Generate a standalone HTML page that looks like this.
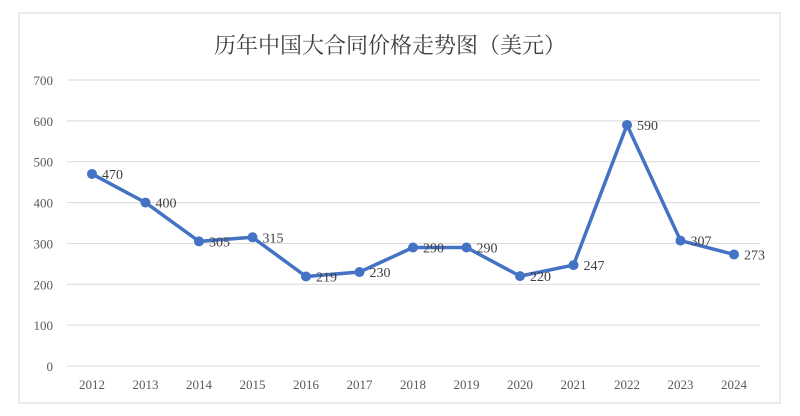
<!DOCTYPE html>
<html><head><meta charset="utf-8"><style>
body{margin:0;background:#fff;}
svg{display:block;font-family:"Liberation Serif","Noto Serif CJK SC",serif;}
</style></head><body>
<svg width="800" height="416" viewBox="0 0 800 416">
<rect x="19" y="13" width="761" height="390" fill="#fff" stroke="#d9d9d9" stroke-width="1"/>
<text x="390" y="53" text-anchor="middle" font-size="22" fill="#404040">历年中国大合同价格走势图（美元）</text>
<g id="grid"></g><g id="ylab"></g><g id="xlab"></g><g id="series"></g>
</svg>
<script>
const categories=["2012","2013","2014","2015","2016","2017","2018","2019","2020","2021","2022","2023","2024"];
const values=[470,400,305,315,219,230,290,290,220,247,590,307,273];
const yTicks=[0,100,200,300,400,500,600,700];
const NS="http://www.w3.org/2000/svg";
const x0=92,x1=734,yb=366,yt=80,ymax=700;
const xs=i=>x0+(x1-x0)*i/(categories.length-1);
const ys=v=>yb-(yb-yt)*v/ymax;
function mk(t,a,p){const e=document.createElementNS(NS,t);for(const k in a)e.setAttribute(k,a[k]);p.appendChild(e);return e;}
const g=document.getElementById('grid'),yl=document.getElementById('ylab'),xl=document.getElementById('xlab'),s=document.getElementById('series');
yTicks.forEach(v=>{
 const l=mk('line',{x1:67,x2:760,y1:ys(v),y2:ys(v),stroke:'#d9d9d9','stroke-width':1},g);
 
 
 const t=mk('text',{x:53,y:ys(v)+5,'text-anchor':'end','font-size':13,fill:'#595959'},yl);t.textContent=v;
 
 
});
categories.forEach((c,i)=>{
 const t=mk('text',{x:xs(i),y:389,'text-anchor':'middle','font-size':13,fill:'#595959'},xl);t.textContent=c;
 
 
});
const pl=mk('polyline',{points:values.map((v,i)=>xs(i)+','+ys(v)).join(' '),fill:'none',stroke:'#4472c4','stroke-width':3.5,'stroke-linejoin':'round'},s);


values.forEach((v,i)=>{
 const c=mk('circle',{cx:xs(i),cy:ys(v),r:5,fill:'#4472c4'},s);
 
 
 const t=mk('text',{x:xs(i)+10,y:ys(v)+5,'font-size':14,fill:'#404040'},s);t.textContent=v;
 
 
});
</script>
</body></html>
